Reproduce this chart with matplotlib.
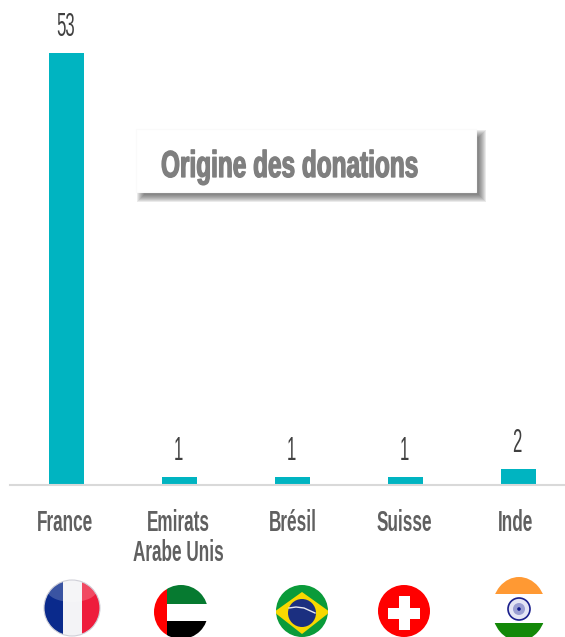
import os
import tempfile
import matplotlib
matplotlib.use("Agg")
import matplotlib.pyplot as plt
import matplotlib.patheffects as pe
from matplotlib import font_manager as fm
from matplotlib.patches import Rectangle, Ellipse, Polygon, Circle
from matplotlib.transforms import ScaledTranslation
from fontTools.ttLib import TTFont

W, H = 565, 637

countries = ["France", "Emirats\nArabe Unis", "Brésil", "Suisse", "Inde"]
donations = [53, 1, 1, 1, 2]


# no condensed family is installed, so squeeze Liberation Sans into one
def narrow_font(weight, factor):
    path = fm.findfont(fm.FontProperties(family="Liberation Sans", weight=weight))
    font = TTFont(path)
    glyf = font["glyf"]
    hmtx = font["hmtx"]
    for name in font.getGlyphOrder():
        g = glyf[name]
        if g.isComposite():
            for comp in g.components:
                comp.x = round(comp.x * factor)
        elif g.numberOfContours > 0:
            g.coordinates.scale((factor, 1))
            g.coordinates.toInt()
            g.program.fromBytecode(b"")
        g.recalcBounds(glyf)
        adv, lsb = hmtx[name]
        hmtx[name] = (round(adv * factor), round(lsb * factor))
    for tag in ["kern", "GPOS", "GSUB", "fpgm", "prep", "cvt ", "hdmx", "VDMX", "LTSH"]:
        if tag in font:
            del font[tag]
    out = os.path.join(tempfile.gettempdir(), f"narrow_{weight}_{int(factor * 100)}.ttf")
    font.save(out)
    return fm.FontProperties(fname=out)


label_font = narrow_font("bold", 0.59)
value_font = narrow_font("regular", 0.5)
title_font = narrow_font("bold", 0.65)

fig = plt.figure(figsize=(W / 100, H / 100), dpi=100)

# ---------------- BARS ----------------
ax = fig.add_axes([10 / W, (H - 485) / H, 555 / W, 485 / H])
x = list(range(len(countries)))
ax.bar(x, donations, width=0.31, color="#00b4c1")
ax.set_xlim(-0.5, 4.41)
ax.set_ylim(0, 59.5)
for s in ["top", "left", "right"]:
    ax.spines[s].set_visible(False)
ax.spines["bottom"].set_color("#d9d9d9")
ax.spines["bottom"].set_linewidth(1.5)
ax.set_yticks([])
ax.set_xticks(x)
ax.set_xticklabels(countries, font=label_font, fontsize=21, color="#606060", linespacing=1.12)
ax.tick_params(axis="x", length=0, pad=17)
# the labels sit a little left of the bars in the original
for label, dx in zip(ax.get_xticklabels(), [-2, -1, 0, -1, -3]):
    label.set_transform(label.get_transform() + ScaledTranslation(dx / 100, 0, fig.dpi_scale_trans))
for i, v in zip(x, donations):
    ax.annotate(str(v), (i, v), xytext=(-1, 12), textcoords="offset points",
                ha="center", va="baseline", font=value_font, fontsize=24, color="#404040")

# ---------------- OVERLAY IN PIXELS ----------------
ov = fig.add_axes([0, 0, 1, 1])
ov.set_xlim(0, W)
ov.set_ylim(H, 0)
ov.axis("off")
ov.patch.set_alpha(0)

# title box with a soft shadow, only showing right and below
for grow in [4, 3, 2, 1, 0, -1, -2, -3]:
    ov.add_patch(Rectangle((141 - grow, 134 - grow), 341 + 2 * grow, 64 + 2 * grow,
                           fc="#404040", ec="none", alpha=0.11))
ov.add_patch(Rectangle((136, 129), 340, 63, fc="white", ec="#fafafa", lw=0.8))
ov.text(161, 177, "Origine des donations", font=title_font, fontsize=27,
        color="#7f7f7f", va="baseline", ha="left",
        path_effects=[pe.withStroke(linewidth=0.9, foreground="#7f7f7f")])


def disc(cx, cy, rx, ry=None):
    ry = ry or rx
    return Ellipse((cx, cy), 2 * rx, 2 * ry, transform=ov.transData)


def rect(x0, y0, w, h, color, clip):
    r = Rectangle((x0, y0), w, h, fc=color, ec="none")
    ov.add_patch(r)
    r.set_clip_path(clip)


# France
c = disc(72, 608, 28)
rect(44, 580, 19, 57, "#0a2a8c", c)
rect(63, 580, 19, 57, "#f3f3f6", c)
rect(82, 580, 18, 57, "#ee1c3c", c)
top = Ellipse((72, 590), 50, 24, fc="white", ec="none", alpha=0.2)
ov.add_patch(top)
top.set_clip_path(c)
ov.add_patch(Circle((72, 608), 28, fc="none", ec="#d0d0d8", lw=0.8))

# Emirats
c = disc(181, 612, 27)
rect(154, 585, 13, 54, "#ff0000", c)
rect(167, 585, 41, 19, "#067a30", c)
rect(167, 604, 41, 17, "#ffffff", c)
rect(167, 621, 41, 18, "#000000", c)

# Bresil
c = disc(302, 611, 26)
rect(276, 585, 52, 52, "#0a9b3a", c)
d = Polygon([(274, 612), (302, 592), (330, 612), (302, 634)], fc="#f8d800", ec="none")
ov.add_patch(d)
d.set_clip_path(c)
ov.add_patch(Circle((302, 613), 14, fc="#1b2f80", ec="none"))
ov.plot([289, 296, 304, 315], [608, 607, 608, 613], color="#e8e8f0", lw=1)

# Suisse
c = disc(404, 611, 26)
rect(378, 585, 52, 52, "#ff0000", c)
rect(399, 596, 11, 34, "#ffffff", c)
rect(388, 607.5, 32, 11, "#ffffff", c)

# Inde
c = disc(519, 609, 27, 32)
rect(491, 577, 56, 17, "#ff9933", c)
rect(491, 594, 56, 29, "#ffffff", c)
rect(491, 623, 56, 14, "#138808", c)
ov.add_patch(Circle((519, 609), 11, fc="#e4e5f4", ec="#1a1f8c", lw=1.2))
ov.add_patch(Circle((519, 609), 6, fc="#9a9ed2", ec="none"))
ov.add_patch(Circle((519, 609), 1.8, fc="#101a8c", ec="none"))

fig.savefig("out.png", dpi=100)
